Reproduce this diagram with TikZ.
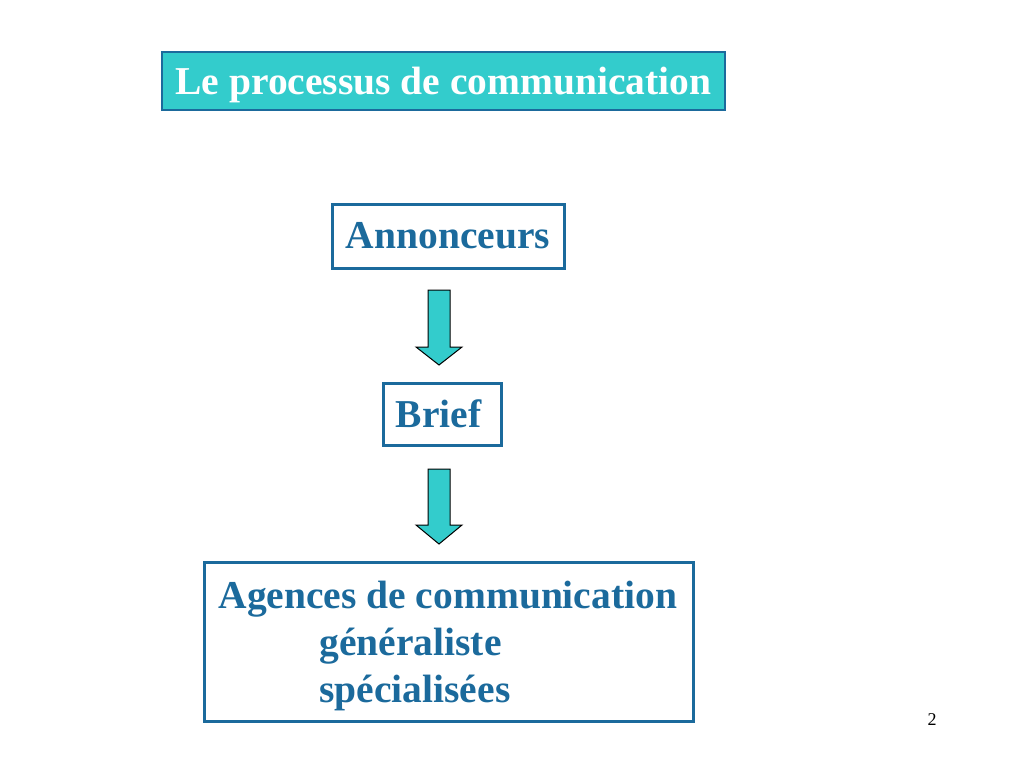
\documentclass[tikz,border=0pt]{standalone}
\usepackage{fontspec}
\setmainfont{Liberation Serif}
\usepackage{tikz}

\definecolor{slideblue}{HTML}{1B6A9C}
\definecolor{slideteal}{HTML}{33CCCC}

\begin{document}
\begin{tikzpicture}[
    x=1pt,y=-1pt,
    box/.style={draw=slideblue,line width=3pt,text=slideblue,inner sep=0pt,
      font=\fontsize{39.5}{47}\selectfont\bfseries},
    title/.style={draw=slideblue,line width=1.2pt,fill=slideteal,text=white,inner sep=0pt,
      text depth=0pt,font=\fontsize{39.5}{47}\selectfont\bfseries},
    blockarrow/.style={draw=black,line width=1pt,fill=slideteal,line join=miter}
    ]
    \useasboundingbox (0,0) rectangle (1024,768);
    \node[title,minimum width=563,minimum height=58] (titre) at (443.5,81) {Le processus de communication};
    \node[box,minimum width=232,minimum height=64] (ann) at (448,236) {Annonceurs};
    \node[box,minimum width=118,minimum height=62] (brief) at (442,414) {Brief\,};
    \node[box,minimum width=489,minimum height=159] (agences) at (448.5,641.5) {};
    \node[box,draw=none,align=left,anchor=base west] (agencestxt) at (217,702)
      {Agences de communication\\\hspace*{101pt}généraliste\\\hspace*{101pt}spécialisées};
    % fleches
    \coordinate (f1) at (439,290);
    \coordinate (f2) at (439,469);
    \draw[blockarrow] (f1) ++(-11,0) -- ++(22,0) -- ++(0,57) -- ++(12,0) -- ++(-23,18) -- ++(-23,-18) -- ++(12,0) -- cycle;
    \draw[blockarrow] (f2) ++(-11,0) -- ++(22,0) -- ++(0,56) -- ++(12,0) -- ++(-23,19) -- ++(-23,-19) -- ++(12,0) -- cycle;
    \node[font=\fontsize{18}{20}\selectfont] (page) at (932,720) {2};
  \end{tikzpicture}
\end{document}
